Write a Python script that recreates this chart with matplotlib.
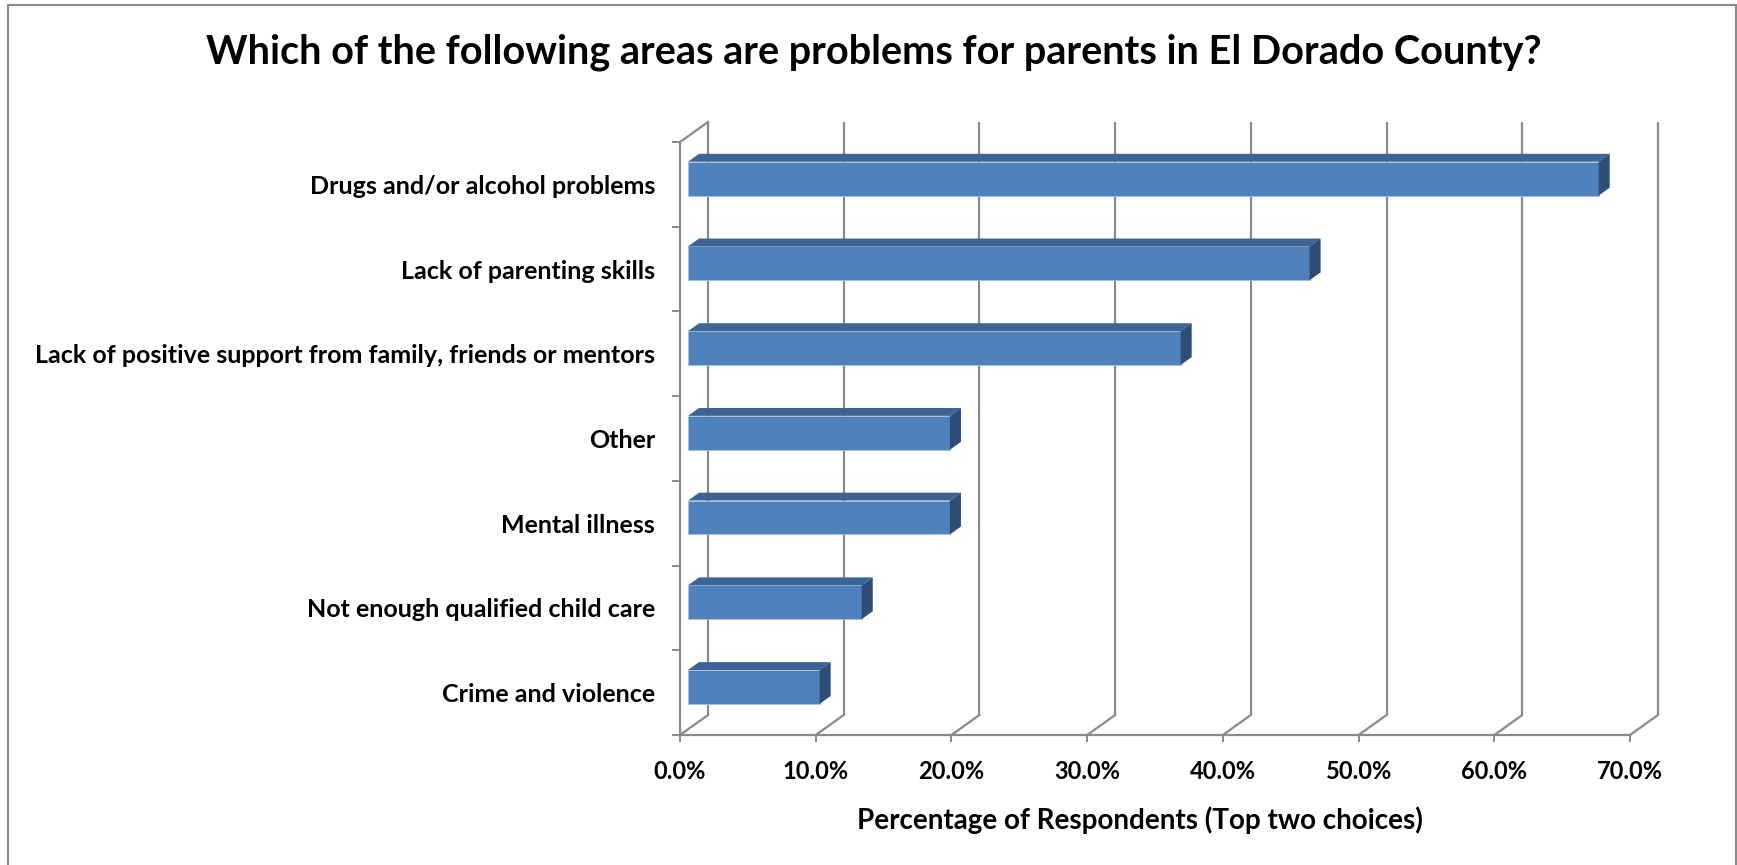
import numpy as np
import matplotlib.pyplot as plt
from matplotlib.patches import Polygon, Rectangle

# --------------------------------------------------
# Data (bottom to top, as drawn)
# --------------------------------------------------
categories = [
    'Crime and violence',
    'Not enough qualified child care',
    'Mental illness',
    'Other',
    'Lack of positive support from family, friends or mentors',
    'Lack of parenting skills',
    'Drugs and/or alcohol problems',
]
values = [9.7, 12.8, 19.3, 19.3, 36.3, 45.8, 67.1]   # percent
xticks = [0, 10, 20, 30, 40, 50, 60, 70]
xtick_labels = ['0.0%', '10.0%', '20.0%', '30.0%', '40.0%', '50.0%', '60.0%', '70.0%']

title = 'Which of the following areas are problems for parents in El Dorado County?'
xlabel = 'Percentage of Respondents (Top two choices)'

# --------------------------------------------------
# Style
# --------------------------------------------------
plt.rcParams['font.family'] = ['Lato', 'DejaVu Sans']
plt.rcParams['font.weight'] = 'bold'

front_col = '#4F81BD'
top_col = '#3C6494'
side_col = '#2E4E78'
grid_col = '#8a8a8a'

W, H = 1737, 865
fig = plt.figure(figsize=(W / 100, H / 100), dpi=100)

# outer chart frame
fig.patches.append(Rectangle((8 / W, -0.02), (W - 9) / W, 1.02 - 5 / H,
                             transform=fig.transFigure, fill=False,
                             edgecolor='#8c8c8c', linewidth=1.5))

ax = fig.add_axes([680 / W, (H - 735) / H, 950 / W, 593 / H])
n = len(categories)
ax.set_xlim(0, 70)
ax.set_ylim(-0.5, n - 0.5)
for s in ax.spines.values():
    s.set_visible(False)

# depth of the pseudo-3D box in data units
DX = 28 / (950 / 70)
DY = 20 / (593 / n)
ylo, yhi = -0.5, n - 0.5

# back wall gridlines + floor diagonals
for t in xticks:
    ax.plot([t + DX, t + DX], [ylo + DY, yhi + DY], color=grid_col, lw=1.6,
            zorder=1, clip_on=False, solid_capstyle='butt')
    ax.plot([t, t + DX], [ylo, ylo + DY], color=grid_col, lw=1.6,
            zorder=1, clip_on=False)
# front floor edge, left front edge, top diagonal
ax.plot([0, 70], [ylo, ylo], color=grid_col, lw=1.6, zorder=1, clip_on=False)
ax.plot([0, 0], [ylo, yhi], color=grid_col, lw=1.6, zorder=1, clip_on=False)
ax.plot([0, DX], [yhi, yhi + DY], color=grid_col, lw=1.6, zorder=1, clip_on=False)

# --------------------------------------------------
# 3D-looking bars
# --------------------------------------------------
f0, f1 = 0.286, 0.68
h = 0.40
ypos = np.arange(n)
yc = ypos + f0 * DY
ax.barh(yc, values, left=f0 * DX, height=h, color=front_col,
        edgecolor='#a9c0dd', linewidth=0.6, zorder=3)
ddx, ddy = (f1 - f0) * DX, (f1 - f0) * DY
for y, v in zip(yc, values):
    x0, x1 = f0 * DX, f0 * DX + v
    top = Polygon([(x0, y + h / 2), (x1, y + h / 2),
                   (x1 + ddx, y + h / 2 + ddy), (x0 + ddx, y + h / 2 + ddy)],
                  closed=True, facecolor=top_col, edgecolor='none', zorder=3)
    side = Polygon([(x1, y - h / 2), (x1, y + h / 2),
                    (x1 + ddx, y + h / 2 + ddy), (x1 + ddx, y - h / 2 + ddy)],
                   closed=True, facecolor=side_col, edgecolor='none', zorder=3)
    ax.add_patch(top)
    ax.add_patch(side)

# --------------------------------------------------
# Ticks and labels
# --------------------------------------------------
ax.set_yticks(ypos)
ax.set_yticklabels(categories, fontsize=18, fontweight='bold')
ax.tick_params(axis='y', which='major', length=0, pad=18)
ax.set_yticks(np.arange(n + 1) - 0.5, minor=True)
ax.tick_params(axis='y', which='minor', length=6, width=1.4, color=grid_col)

ax.set_xticks(xticks)
ax.set_xticklabels(xtick_labels, fontsize=17, fontweight='bold')
ax.tick_params(axis='x', length=5, width=1.4, color=grid_col, pad=13)

ax.set_xlabel(xlabel, fontsize=20, fontweight='bold', va='center')
ax.xaxis.set_label_coords((1140 - 680) / 950, -(820 - 735) / 593)
fig.text(874 / W, 1 - 52 / H, title, fontsize=28.5, fontweight='bold',
         ha='center', va='center')

fig.savefig('out.png', dpi=100)
